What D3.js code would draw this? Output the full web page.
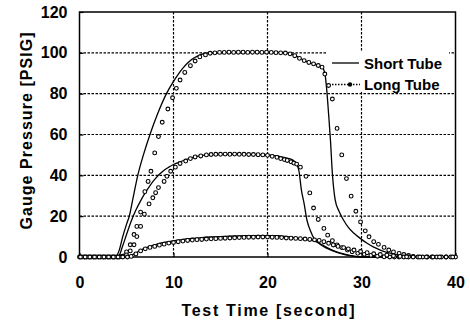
<!DOCTYPE html>
<html>
<head>
<meta charset="utf-8">
<script src="https://cdn.jsdelivr.net/npm/d3@7"></script>
<style>
  body { margin: 0; background: #fff; }
  svg { display: block; font-family: "Liberation Sans", Arial, sans-serif; }
</style>
</head>
<body>
<svg width="470" height="322"></svg>
<script>
// ticks
const xTicks = [0, 10, 20, 30, 40];
const yTicks = [0, 20, 40, 60, 80, 100, 120];
const legendLabels = ["Short Tube", "Long Tube"];

// short tube (solid lines), [time s, pressure psig]
const short100 = [[0,0],[3.8,0],[4.2,3],[4.6,10],[5.0,16],[5.3,20],[5.7,29],[6.2,40],[6.8,50],[7.5,60],[8.3,70],[9.25,80],[10,86],[10.5,89.5],[11,92.5],[11.5,95],[12,97],[12.5,98.3],[13,99.2],[13.6,100],[16,100.2],[18,100.3],[20,100.3],[22,100],[23,98.5],[24,96],[25,94.3],[25.8,93],[26.1,90],[26.3,82],[26.5,70],[26.7,57],[26.9,41],[27.2,28],[27.6,22.5],[28.1,18],[28.6,14.5],[29.2,11.6],[29.9,9],[30.6,6.7],[31.3,4.8],[32,3.4],[32.7,2.3],[33.4,1.5],[34.2,0.7],[35,0.2],[36,0],[40,0]];
const short50 = [[0,0],[4.1,0],[4.6,5.5],[5.0,11],[5.5,17.5],[6.0,23],[6.5,27.5],[7.0,31.5],[7.5,35],[8.0,38],[8.5,40.5],[9.0,42.5],[9.5,44],[10.0,45.3],[10.7,46.6],[11.5,48],[12.5,49.3],[13.5,50],[16,50.3],[18,50.3],[20,50],[21,49.5],[22,48.5],[22.7,47.5],[23.1,45.5],[23.35,42],[23.6,33],[23.9,26],[24.2,18],[24.6,12.5],[24.9,9.5],[25.4,7],[26,5],[26.7,3.5],[27.4,2.2],[28.2,1.2],[29,0.5],[30,0],[40,0]];
const short10 = [[0,0],[5.0,0],[5.5,0.8],[6.0,2],[6.5,3.3],[7.2,4.7],[8.0,6],[8.6,6.8],[9.3,7.4],[10,7.9],[11,8.6],[12,9.1],[13,9.5],[14,9.8],[16,10.2],[18,10.4],[20,10.5],[21,10.4],[22,10],[23,9.4],[24,8.6],[25,7.8],[25.6,6.5],[26,5.5],[26.5,4.2],[27,3.1],[27.6,2.1],[28.1,1.5],[29,0.6],[30,0.1],[31,0],[40,0]];

// long tube (circles)
const long100 = [[0,0],[0.5,0],[1,0],[1.5,0],[2,0],[2.5,0],[3,0],[3.5,0],[4,0],[4.5,0.3],[5.0,2.5],[5.4,6],[5.8,11],[6.1,15],[6.5,22],[6.95,32],[7.3,37],[7.6,42],[8.0,51],[8.4,59],[8.8,66],[9.4,72.5],[9.9,78],[10.3,82.6],[10.7,86.7],[11.2,90.4],[11.8,93.7],[12.3,96],[12.8,98],[13.4,99],[13.9,99.8],[14.4,100],[14.9,100.2],[15.4,100.2],[15.9,100.3],[16.4,100.2],[16.9,100.3],[17.4,100.3],[17.9,100.2],[18.4,100.3],[18.9,100.3],[19.4,100.2],[19.9,100.3],[20.4,100.2],[20.9,100.1],[21.4,100],[21.9,99.9],[22.4,99.5],[22.9,98.6],[23.4,97.3],[23.9,96.2],[24.4,95.3],[24.9,94.6],[25.4,93.8],[25.8,93],[26.1,89.6],[26.5,84],[26.9,77.4],[27.4,63],[27.9,50],[28.4,38.4],[28.9,29.8],[29.4,22.4],[29.9,17.2],[30.4,12.8],[30.8,9.9],[31.3,7.5],[31.8,6.2],[32.4,4.7],[32.9,3.4],[33.4,2.5],[34,1.8],[34.5,1.2],[35,0.7],[35.5,0.3],[36,0],[36.5,0],[37,0],[37.5,0],[38,0],[38.5,0],[39,0],[39.5,0],[40,0]];
const long50 = [[0.25,0],[0.75,0],[1.25,0],[1.75,0],[2.25,0],[2.75,0],[3.25,0],[3.75,0],[4.25,0],[4.7,0.5],[5.0,1],[5.4,3],[5.8,6],[6.1,10],[6.5,15],[6.9,21],[7.4,26],[7.8,29],[8.1,31.5],[8.4,34],[9.0,37],[9.3,39.5],[9.7,42],[10.2,44],[10.7,45.8],[11.3,47],[11.8,48.2],[12.3,49],[12.9,49.5],[13.5,50],[14,50.2],[14.5,50.3],[15,50.3],[15.5,50.4],[16,50.3],[16.5,50.4],[17,50.3],[17.5,50.3],[18,50.2],[18.5,50.2],[19,50.1],[19.5,50],[20,49.8],[20.5,49.3],[21,48.8],[21.4,48.2],[21.8,47.7],[22.1,47.3],[22.5,46.6],[22.8,46],[23.1,45.5],[23.5,44],[24.1,39.5],[24.5,31.4],[24.9,24],[25.4,18.4],[26,14],[26.4,10.7],[26.9,8],[27.4,5.9],[27.9,4.6],[28.5,3.4],[29,2.6],[29.6,1.8],[30.3,1.3],[31,0.8],[31.7,0.4],[32.4,0.1],[33,0],[33.5,0],[34,0],[34.5,0],[35,0]];
const long10 = [[0.1,0],[0.6,0],[1.1,0],[1.6,0],[2.1,0],[2.6,0],[3.1,0],[3.6,0],[4.1,0],[4.6,0],[5.1,0],[5.5,0.3],[6.0,1.5],[6.5,3],[7.0,4],[7.5,4.7],[8.0,5.2],[8.5,5.8],[9.0,6.3],[9.5,6.8],[10,7.1],[10.5,7.5],[11,7.8],[11.5,8.1],[12,8.3],[12.5,8.5],[13,8.6],[13.5,8.8],[14,8.9],[14.5,9],[15,9.1],[15.5,9.2],[16,9.3],[16.5,9.4],[17,9.5],[17.5,9.6],[18,9.7],[18.5,9.7],[19,9.8],[19.5,9.8],[20,9.8],[20.5,9.7],[21,9.6],[21.5,9.5],[22,9.3],[22.5,9.2],[23,9.1],[23.5,9.0],[24,8.8],[24.5,8.6],[25,8.4],[25.5,8.1],[26,7.5],[26.5,6.7],[27,5.9],[27.5,5.2],[28.1,4.6],[28.6,4],[29.2,3.4],[29.9,2.7],[30.6,2.1],[31.3,1.6],[32,1.2],[32.7,0.9],[33.4,0.6],[34.1,0.3],[34.8,0.1],[35.5,0],[36.2,0],[36.9,0],[37.6,0],[38.3,0],[39,0],[39.7,0]];

const svg = d3.select("svg");
const mLeft = 79.5, mRight = 455.5, mTop = 12, mBottom = 257;

const x = d3.scaleLinear().domain([0, 40]).range([mLeft, mRight]);
const y = d3.scaleLinear().domain([0, 120]).range([mBottom, mTop]);

// grid
const grid = svg.append("g")
    .attr("stroke", "#000")
    .attr("stroke-width", 1.2)
    .attr("stroke-dasharray", "2.5,1.5");
grid.selectAll("line.h")
    .data(yTicks.filter(d => d > 0 && d < 120))
    .enter().append("line")
    .attr("x1", mLeft).attr("x2", mRight)
    .attr("y1", d => y(d)).attr("y2", d => y(d));
grid.selectAll("line.v")
    .data(xTicks.filter(d => d > 0 && d < 40))
    .enter().append("line")
    .attr("y1", mTop).attr("y2", mBottom)
    .attr("x1", d => x(d)).attr("x2", d => x(d));

// legend background hides grid
svg.append("rect")
    .attr("x", 327).attr("y", 51)
    .attr("width", 122).attr("height", 41)
    .attr("fill", "#fff");

// axes
const xAxis = svg.append("g")
    .attr("transform", `translate(0,${mBottom})`)
    .call(d3.axisBottom(x).tickValues(xTicks).tickSize(-4).tickPadding(20).tickFormat(d3.format("d")));
const yAxis = svg.append("g")
    .attr("transform", `translate(${mLeft},0)`)
    .call(d3.axisLeft(y).tickValues(yTicks).tickSize(-4).tickPadding(12).tickFormat(d3.format("d")));
[xAxis, yAxis].forEach(a => {
    a.select(".domain").remove();
    a.selectAll("line").attr("stroke", "#000").attr("stroke-width", 1.2);
    a.selectAll("text")
        .attr("fill", "#000")
        .style("font-size", "16px")
        .style("font-weight", "bold")
        .style("font-family", "'Liberation Sans', Arial, sans-serif");
});

// frame
svg.append("rect")
    .attr("x", mLeft).attr("y", mTop)
    .attr("width", mRight - mLeft).attr("height", mBottom - mTop)
    .attr("fill", "none")
    .attr("stroke", "#000")
    .attr("stroke-width", 1.5);

// short tube lines
const line = d3.line()
    .x(d => x(d[0]))
    .y(d => y(d[1]))
    .curve(d3.curveMonotoneX);

[short100, short50, short10].forEach(s => {
    svg.append("path")
        .datum(s)
        .attr("d", line)
        .attr("fill", "none")
        .attr("stroke", "#000")
        .attr("stroke-width", 1.3);
});

// long tube circles
[long100, long50, long10].forEach(s => {
    svg.append("g")
        .selectAll("circle")
        .data(s)
        .enter().append("circle")
        .attr("cx", d => x(d[0]))
        .attr("cy", d => y(d[1]))
        .attr("r", 1.9)
        .attr("fill", "#fff")
        .attr("stroke", "#000")
        .attr("stroke-width", 1.1);
});

// legend
const lg = svg.append("g");
lg.append("line")
    .attr("x1", 332).attr("x2", 359).attr("y1", 63).attr("y2", 63)
    .attr("stroke", "#000").attr("stroke-width", 1.3);
lg.append("line")
    .attr("x1", 332).attr("x2", 360).attr("y1", 84.5).attr("y2", 84.5)
    .attr("stroke", "#000").attr("stroke-width", 1.3)
    .attr("stroke-dasharray", "1.5,1.5");
lg.append("circle")
    .attr("cx", 350).attr("cy", 84.5).attr("r", 2.2)
    .attr("fill", "#000");
lg.selectAll("text")
    .data(legendLabels)
    .enter().append("text")
    .attr("x", 364)
    .attr("y", (d, i) => 68.5 + i * 21.5)
    .style("font-size", "15px")
    .style("font-weight", "bold")
    .text(d => d);

// axis titles
svg.append("text")
    .attr("x", 268).attr("y", 315.5)
    .attr("text-anchor", "middle")
    .attr("textLength", 173)
    .attr("lengthAdjust", "spacing")
    .style("font-size", "16px")
    .style("font-weight", "bold")
    .text("Test Time [second]");

svg.append("text")
    .attr("transform", "translate(32,131) rotate(-90)")
    .attr("text-anchor", "middle")
    .attr("textLength", 197)
    .attr("lengthAdjust", "spacing")
    .style("font-size", "16px")
    .style("font-weight", "bold")
    .text("Gauge Pressure [PSIG]");
</script>
</body>
</html>
